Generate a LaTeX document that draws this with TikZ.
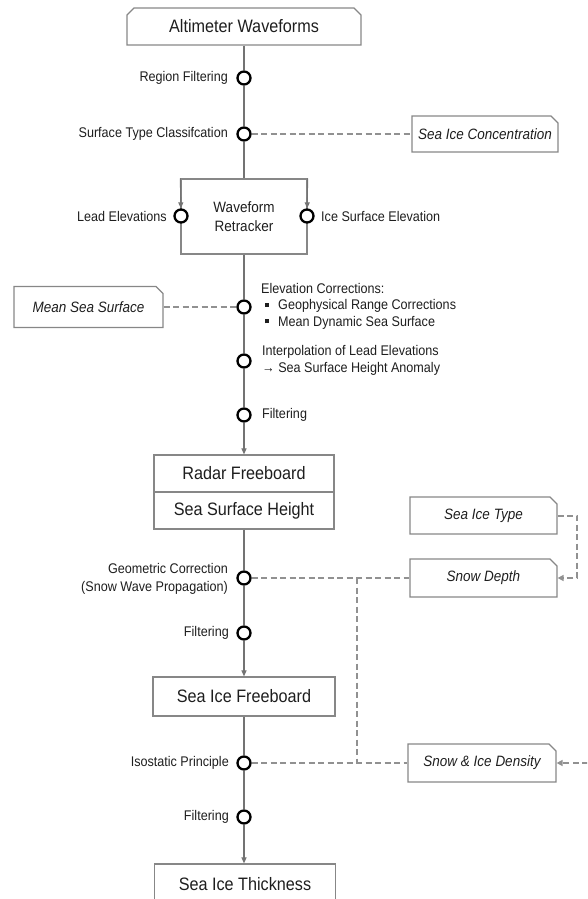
\documentclass[tikz,border=0pt]{standalone}
\usepackage{fontspec}
\setmainfont{Liberation Sans}[FakeStretch=0.9]
\usetikzlibrary{shapes.misc,arrows.meta}
\definecolor{lineg}{RGB}{115,115,115}
\definecolor{boxg}{RGB}{135,135,135}
\definecolor{dashg}{RGB}{145,145,145}
\definecolor{txt}{RGB}{30,30,30}
\tikzset{
  flow/.style={draw=lineg, line width=1.1pt},
  flowarr/.style={flow, -{Triangle[length=6pt,width=5pt,fill=lineg]}},
  feed/.style={draw=dashg, line width=2pt, dash pattern=on 6pt off 3.5pt},
  feedarr/.style={feed, -{Triangle[length=6pt,width=6pt,fill=dashg]}},
  stepnode/.style={circle, draw=black, line width=2.3pt, fill=white, minimum size=13pt, inner sep=0pt},
  mainbox/.style={rectangle, draw=boxg, line width=1.2pt, inner sep=0pt, text=txt, font=\fontsize{18}{21}\selectfont},
  altbox/.style={chamfered rectangle, chamfered rectangle corners={north west,north east}, chamfered rectangle sep=3.5pt, draw=boxg, line width=1.2pt, inner sep=0pt, text=txt, font=\fontsize{18}{21}\selectfont},
  inputbox/.style={chamfered rectangle, chamfered rectangle corners=north east, chamfered rectangle sep=3.5pt, draw=boxg, line width=1.2pt, inner sep=0pt, text=txt, font=\fontsize{15}{18}\selectfont\itshape},
  lbl/.style={inner sep=0pt, text=txt, font=\fontsize{14}{16.5}\selectfont},
}
\newcommand{\sqbullet}{\hspace*{4pt}\rule[0.2em]{4pt}{4pt}\hspace{9pt}}
\begin{document}
\begin{tikzpicture}[x=1pt,y=-1pt]
\useasboundingbox (0,0) rectangle (587,899);
\clip (0,0) rectangle (587,899);

% main boxes
\node[altbox, minimum width=234pt, minimum height=37pt] (alt) at (244,26.5) {Altimeter Waveforms};
\node[mainbox, minimum width=126pt, minimum height=75pt, align=center, font=\fontsize{15}{19}\selectfont] (ret) at (244,216.5) {Waveform\\Retracker};
\node[mainbox, minimum width=180pt, minimum height=37pt] (radar) at (244,473.5) {Radar Freeboard};
\node[mainbox, minimum width=180pt, minimum height=37pt] (ssh) at (244,510.5) {Sea Surface Height};
\node[mainbox, minimum width=182pt, minimum height=39pt] (sif) at (244,696.5) {Sea Ice Freeboard};
\node[mainbox, minimum width=181pt, minimum height=40pt] (sit) at (245,884) {Sea Ice Thickness};

% input boxes
\node[inputbox, minimum width=146pt, minimum height=36pt] (sic) at (485,134) {Sea Ice Concentration};
\node[inputbox, minimum width=149pt, minimum height=41pt] (mss) at (88.5,307) {Mean Sea Surface};
\node[inputbox, minimum width=147pt, minimum height=37pt] (sitype) at (483.5,515.5) {Sea Ice Type};
\node[inputbox, minimum width=147pt, minimum height=38pt] (sd) at (483.5,578) {Snow Depth};
\node[inputbox, minimum width=148pt, minimum height=38pt] (sid) at (482,763) {Snow \& Ice Density};

% step circles
\node[stepnode] (c1) at (244,78) {};
\node[stepnode] (c2) at (244,134) {};
\node[stepnode] (lead) at (181,216) {};
\node[stepnode] (ice) at (307,216) {};
\node[stepnode] (c3) at (244,307) {};
\node[stepnode] (c4) at (244,361) {};
\node[stepnode] (c5) at (244,415) {};
\node[stepnode] (c6) at (244,578) {};
\node[stepnode] (c7) at (244,633) {};
\node[stepnode] (c8) at (244,763) {};
\node[stepnode] (c9) at (244,817) {};

% labels
\node[lbl, anchor=east] (l1) at (228,78) {Region Filtering};
\node[lbl, anchor=east] (l2) at (228,134) {Surface Type Classifcation};
\node[lbl, anchor=east] (l3) at (167,216) {Lead Elevations};
\node[lbl, anchor=west] (l4) at (321,216) {Ice Surface Elevation};
\node[lbl, anchor=west, align=left] (l5) at (261,306) {Elevation Corrections:\\\sqbullet Geophysical Range Corrections\\\sqbullet Mean Dynamic Sea Surface};
\node[lbl, anchor=west, align=left, font=\fontsize{14}{17}\selectfont] (l6) at (262,360.5) {Interpolation of Lead Elevations\\→ Sea Surface Height Anomaly};
\node[lbl, anchor=west] (l7) at (262,415) {Filtering};
\node[lbl, anchor=east, align=right, font=\fontsize{14}{18}\selectfont] (l8) at (228,579) {Geometric Correction\\(Snow Wave Propagation)};
\node[lbl, anchor=east] (l9) at (229,633) {Filtering};
\node[lbl, anchor=east] (l10) at (229,763) {Isostatic Principle};
\node[lbl, anchor=east] (l11) at (229,817) {Filtering};

% free ends
\coordinate (j1) at (357,578);
\coordinate (j2) at (357,763);
\coordinate (k) at (577,578);
\coordinate (edge) at (588,763);

% main flow
\draw[flow] (alt.south) -- (c1);
\draw[flow] (c1) -- (c2);
\draw[flow] (c2) -- (ret.north);
\draw[flowarr] (ret.north west) -- (lead);
\draw[flowarr] (ret.north east) -- (ice);
\draw[flow] (ret.south) -- (c3);
\draw[flow] (c3) -- (c4);
\draw[flow] (c4) -- (c5);
\draw[flowarr] (c5) -- (radar.north);
\draw[flow] (ssh.south) -- (c6);
\draw[flow] (c6) -- (c7);
\draw[flowarr] (c7) -- (sif.north);
\draw[flow] (sif.south) -- (c8);
\draw[flow] (c8) -- (c9);
\draw[flowarr] (c9) -- (c9 |- sit.north);

% ancillary inputs
\draw[feed] (c2) -- (sic.west);
\draw[feed] (mss.east) -- (c3);
\draw[feed] (c6) -- (sd.west);
\draw[feed] (j1) -- (j2);
\draw[feed] (c8) -- (sid.west);
\draw[feedarr] (sitype.east) -| (k) -- (sd.east);
\draw[feedarr] (edge) -- (sid.east);
\end{tikzpicture}
\end{document}
